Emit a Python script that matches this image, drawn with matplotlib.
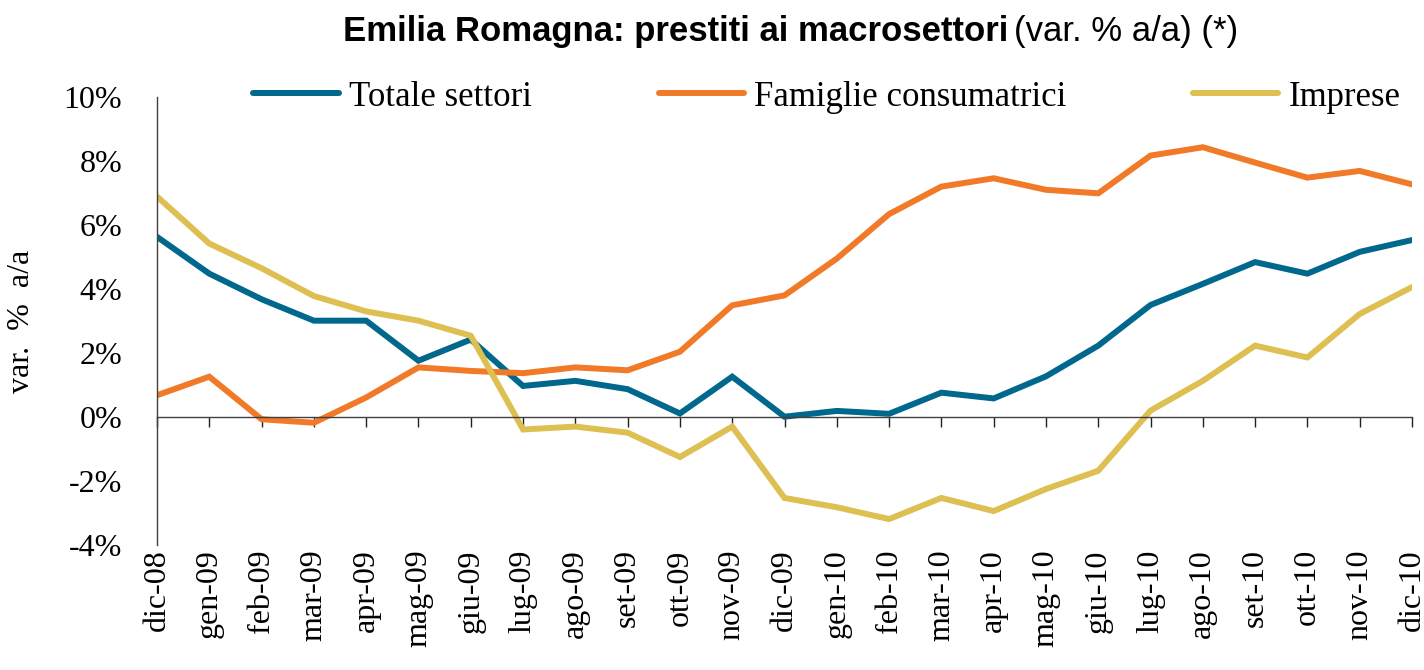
import matplotlib
matplotlib.use('Agg')
import matplotlib.pyplot as plt
import numpy as np

# data (var. % a/a)
months = ['dic-08', 'gen-09', 'feb-09', 'mar-09', 'apr-09', 'mag-09', 'giu-09',
          'lug-09', 'ago-09', 'set-09', 'ott-09', 'nov-09', 'dic-09',
          'gen-10', 'feb-10', 'mar-10', 'apr-10', 'mag-10', 'giu-10',
          'lug-10', 'ago-10', 'set-10', 'ott-10', 'nov-10', 'dic-10']
totale = [5.63, 4.48, 3.68, 3.01, 3.01, 1.76, 2.42,
          0.97, 1.13, 0.87, 0.11, 1.26, 0.01,
          0.19, 0.10, 0.76, 0.58, 1.27, 2.23,
          3.50, 4.16, 4.84, 4.48, 5.16, 5.53]
famiglie = [0.68, 1.26, -0.07, -0.18, 0.61, 1.55, 1.44,
            1.37, 1.55, 1.46, 2.04, 3.49, 3.80,
            4.95, 6.34, 7.20, 7.46, 7.10, 6.99,
            8.17, 8.43, 7.95, 7.48, 7.69, 7.27]
imprese = [6.89, 5.42, 4.65, 3.78, 3.30, 3.01, 2.54,
           -0.39, -0.30, -0.49, -1.25, -0.30, -2.53,
           -2.82, -3.19, -2.53, -2.94, -2.25, -1.68,
           0.20, 1.13, 2.23, 1.86, 3.22, 4.06]
series_names = ['Totale settori', 'Famiglie consumatrici', 'Imprese']
colors = ['#00688C', '#F07A28', '#DDBF52']

serif = 'Liberation Serif'
sans = 'Liberation Sans'
fs = 23

fig = plt.figure(figsize=(14.24, 6.70), dpi=100)
ax = fig.add_axes([157 / 1424, 1 - 545 / 670, (1412 - 157) / 1424, (545 - 97) / 670])

x = np.arange(len(months))
for vals, name, c in zip([totale, famiglie, imprese], series_names, colors):
    ax.plot(x, vals, color=c, lw=4.3, label=name, solid_capstyle='round', solid_joinstyle='miter')

ax.set_xlim(0, len(months) - 1)
ax.set_ylim(-4, 10)
ax.set_yticks(np.arange(-4, 11, 2))
ax.set_yticklabels([f'{v}%' for v in range(-4, 11, 2)], fontfamily=serif, fontsize=fs)
ax.tick_params(axis='y', length=0, pad=25)

for s in ['top', 'right']:
    ax.spines[s].set_visible(False)
ax.spines['left'].set_color('#404040')
ax.spines['left'].set_linewidth(1.0)
ax.spines['bottom'].set_position(('data', 0))
ax.spines['bottom'].set_color('#404040')
ax.spines['bottom'].set_linewidth(1.0)
ax.set_xticks(x)
ax.tick_params(axis='x', length=7, width=1.0, color='#202020', direction='out', labelbottom=False)

sec = ax.secondary_xaxis('bottom')
sec.set_xticks(x, labels=months)
sec.tick_params(length=0, pad=3)
sec.spines['bottom'].set_visible(False)
for lab in sec.get_xticklabels():
    lab.set_rotation(90)
    lab.set_fontfamily(serif)
    lab.set_fontsize(fs)

ax.set_ylabel('var.  %  a/a', fontfamily=serif, fontsize=fs)
ax.yaxis.set_label_coords(-(157 - 36) / 1255, 0.5)

fig.legend(loc='center', bbox_to_anchor=(827 / 1424, 1 - 97 / 670), ncol=3, frameon=False,
           prop={'family': serif, 'size': 25}, handlelength=2.45, columnspacing=3.65,
           handletextpad=0.3)

fig.text(1008 / 1424, 1 - 31 / 670, 'Emilia Romagna: prestiti ai macrosettori',
         ha='right', va='center', fontfamily=sans, fontsize=25, fontweight='bold')
fig.text(1014 / 1424, 1 - 31 / 670, '(var. % a/a) (*)',
         ha='left', va='center', fontfamily=sans, fontsize=25)

fig.savefig('out.png', dpi=100)
